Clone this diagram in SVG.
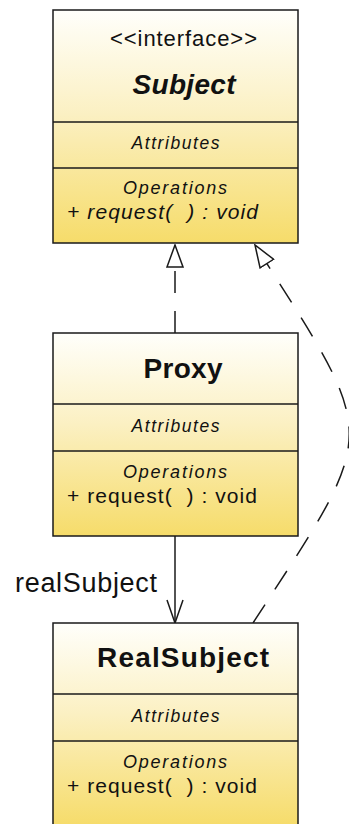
<svg xmlns="http://www.w3.org/2000/svg" width="349" height="824" viewBox="0 0 349 824">
  <defs>
    <linearGradient id="classFill" x1="0" y1="0" x2="0" y2="1">
      <stop offset="0" stop-color="#fffffb"/>
      <stop offset="0.45" stop-color="#fbf0c2"/>
      <stop offset="1" stop-color="#f6dc6a"/>
    </linearGradient>
    <!-- hollow triangle for realization -->
    <marker id="realize" markerUnits="userSpaceOnUse" viewBox="0 0 24 18" refX="23" refY="9" markerWidth="24" markerHeight="18" orient="auto">
      <path d="M1,1 L23,9 L1,17 Z" fill="#ffffff" stroke="#1a1a1a" stroke-width="1.5" stroke-linejoin="miter"/>
    </marker>
    <!-- open arrowhead for navigable association -->
    <marker id="navigate" markerUnits="userSpaceOnUse" viewBox="0 0 25 18" refX="24" refY="9" markerWidth="25" markerHeight="18" orient="auto">
      <path d="M1,1 L24,9 L1,17" fill="none" stroke="#1a1a1a" stroke-width="1.5"/>
    </marker>
    <style>
      .box { fill: url(#classFill); stroke: #1a1a1a; stroke-width: 1.5; }
      .sep { stroke: #1a1a1a; stroke-width: 1.5; }
      text { font-family: "Liberation Sans", Arial, sans-serif; fill: #111111; white-space: pre; }
      .stereo { font-size: 22px; text-anchor: middle; }
      .name { font-size: 28px; font-weight: bold; text-anchor: middle; }
      .abstract { font-style: italic; }
      .attrs { font-size: 17.5px; font-style: italic; text-anchor: middle; }
      .ops { font-size: 18px; font-style: italic; text-anchor: middle; }
      .op { font-size: 21px; }
      .label { font-size: 27px; }
      .dep { fill: none; stroke: #1a1a1a; stroke-width: 1.5; stroke-dasharray: 22 18; }
      .assoc { fill: none; stroke: #1a1a1a; stroke-width: 1.5; }
    </style>
  </defs>

  <rect width="349" height="824" fill="#ffffff"/>

  <g id="connectors">
    <!-- Proxy realizes Subject -->
    <path class="dep" d="M175,333 L175,245" marker-end="url(#realize)"/>
    <!-- RealSubject realizes Subject -->
    <path class="dep" d="M253,623 C381,426 381,443 255,245" marker-end="url(#realize)"/>
    <!-- Proxy holds realSubject -->
    <path class="assoc" d="M175,536 L175,623" marker-end="url(#navigate)"/>
    <text class="label" x="15" y="592" textLength="142" lengthAdjust="spacing">realSubject</text>
  </g>

  <g id="Subject">
    <rect class="box" x="53" y="10" width="245" height="233"/>
    <line class="sep" x1="53" y1="122" x2="298" y2="122"/>
    <line class="sep" x1="53" y1="168" x2="298" y2="168"/>
    <text class="stereo" x="183.5" y="46" textLength="147" lengthAdjust="spacing">&lt;&lt;interface&gt;&gt;</text>
    <text class="name abstract" x="184" y="94" textLength="103" lengthAdjust="spacing">Subject</text>
    <text class="attrs" x="175.5" y="149" textLength="88" lengthAdjust="spacing">Attributes</text>
    <text class="ops" x="175" y="194" textLength="104" lengthAdjust="spacing">Operations</text>
    <text class="op abstract" x="67" y="219" textLength="191" lengthAdjust="spacing" xml:space="preserve">+ request(  ) : void</text>
  </g>

  <g id="Proxy">
    <rect class="box" x="53" y="333" width="245" height="203"/>
    <line class="sep" x1="53" y1="404" x2="298" y2="404"/>
    <line class="sep" x1="53" y1="451" x2="298" y2="451"/>
    <text class="name" x="183" y="378" textLength="79" lengthAdjust="spacing">Proxy</text>
    <text class="attrs" x="175.5" y="432" textLength="88" lengthAdjust="spacing">Attributes</text>
    <text class="ops" x="175" y="478" textLength="104" lengthAdjust="spacing">Operations</text>
    <text class="op" x="67" y="503" textLength="190" lengthAdjust="spacing" xml:space="preserve">+ request(  ) : void</text>
  </g>

  <g id="RealSubject">
    <rect class="box" x="53" y="623" width="245" height="203"/>
    <line class="sep" x1="53" y1="694" x2="298" y2="694"/>
    <line class="sep" x1="53" y1="741" x2="298" y2="741"/>
    <text class="name" x="183" y="667" textLength="172" lengthAdjust="spacing">RealSubject</text>
    <text class="attrs" x="175.5" y="722" textLength="88" lengthAdjust="spacing">Attributes</text>
    <text class="ops" x="175" y="768" textLength="104" lengthAdjust="spacing">Operations</text>
    <text class="op" x="67" y="793" textLength="190" lengthAdjust="spacing" xml:space="preserve">+ request(  ) : void</text>
  </g>
</svg>
